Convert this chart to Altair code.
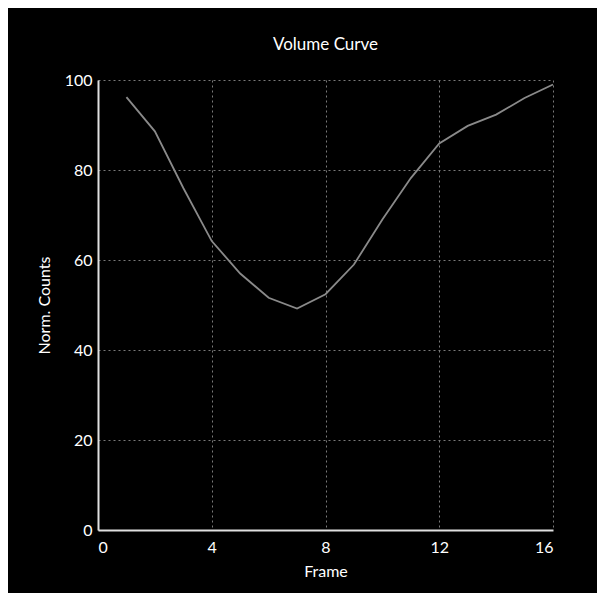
import altair as alt
import pandas as pd

frames = [1, 2, 3, 4, 5, 6, 7, 8, 9, 10, 11, 12, 13, 14, 15, 16]
counts = [96.2, 88.6, 76.0, 64.2, 57.0, 51.6, 49.2, 52.4, 59.0, 69.0, 78.2, 85.9, 89.8, 92.3, 96.0, 99.0]

df = pd.DataFrame({"Frame": frames, "Counts": counts})

FONT = "Lato"

chart = alt.Chart(df).mark_line(color="#8a8a8a", strokeWidth=1.8).encode(
    x=alt.X("Frame:Q", title="Frame",
            scale=alt.Scale(domain=[0, 16], nice=False),
            axis=alt.Axis(values=[0, 4, 8, 12, 16])),
    y=alt.Y("Counts:Q", title="Norm. Counts",
            scale=alt.Scale(domain=[0, 100], nice=False),
            axis=alt.Axis(values=[0, 20, 40, 60, 80, 100])),
).properties(
    width=455, height=450,
    title=alt.TitleParams("Volume Curve", fontSize=17, font=FONT, fontWeight="normal",
                          color="#ffffff", offset=18),
    background="#000000",
    padding={"left": 90, "top": 72, "right": 44, "bottom": 63},
    autosize=alt.AutoSizeParams(type="none"),
).configure_view(
    stroke=None, fill="#000000"
).configure_axis(
    domainColor="#e0e0e0", domainWidth=2,
    grid=True, gridColor="#7a7a7a", gridDash=[2, 3], gridWidth=1,
    ticks=False,
    labelColor="#ffffff", labelFont=FONT, labelFontSize=16,
    titleColor="#ffffff", titleFont=FONT, titleFontSize=16, titleFontWeight="normal",
).configure_axisX(
    labelPadding=9, titlePadding=8,
).configure_axisY(
    labelPadding=6, titlePadding=12,
)

chart.save("out.html", embed_options={"renderer": "svg", "actions": False})
